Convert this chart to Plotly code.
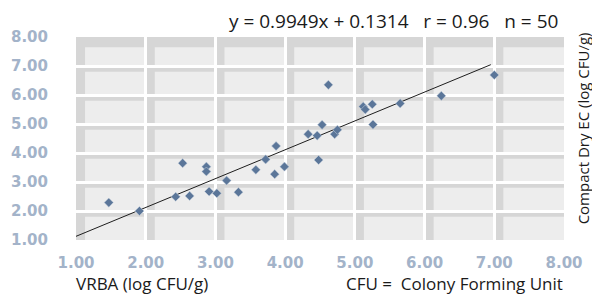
import plotly.graph_objects as go

# data
vrba = [1.47, 1.91, 2.43, 2.63, 2.53, 2.87, 2.87, 3.16, 2.91, 3.02, 3.33,
        3.58, 3.85, 3.99, 3.72, 3.87, 4.48, 4.33, 4.46, 4.53, 4.71, 4.75,
        4.62, 5.12, 5.15, 5.25, 5.26, 5.65, 6.24, 7.00]
compact = [2.29, 2.00, 2.49, 2.52, 3.65, 3.53, 3.36, 3.05, 2.67, 2.61, 2.65,
           3.42, 3.27, 3.53, 3.78, 4.24, 3.76, 4.65, 4.60, 4.97, 4.65, 4.80,
           6.35, 5.60, 5.50, 5.68, 4.98, 5.71, 5.97, 6.69]
slope = 0.9949
intercept = 0.1314
line_x = [1.0, 6.95]
tick_vals = [1, 2, 3, 4, 5, 6, 7, 8]
tick_text = ["1.00", "2.00", "3.00", "4.00", "5.00", "6.00", "7.00", "8.00"]
stats_text = "y = 0.9949x + 0.1314\u00a0\u00a0\u00a0r = 0.96\u00a0\u00a0\u00a0n = 50"
x_title = "VRBA (log CFU/g)"
y_title = "Compact Dry EC (log CFU/g)"
note_text = "CFU =\u00a0 Colony Forming Unit"

fig = go.Figure()

# regression line
fig.add_trace(go.Scatter(
    x=line_x, y=[slope * v + intercept for v in line_x],
    mode="lines", line=dict(color="#1e1e1e", width=1), hoverinfo="skip",
    showlegend=False))

fig.add_trace(go.Scatter(
    x=vrba, y=compact, mode="markers",
    marker=dict(symbol="diamond", size=7, color="#5b7699",
                line=dict(color="#c9d3df", width=0.5)),
    showlegend=False))

# tile-style background cells
shapes = []
for i in range(1, 8):
    for j in range(1, 8):
        shapes.append(dict(type="rect", xref="x", yref="y", layer="below",
                           x0=i, x1=i + 1, y0=j, y1=j + 1,
                           fillcolor="#d6d6d6", line=dict(width=0)))
        top = 0.35 if j == 7 else 0.2
        shapes.append(dict(type="rect", xref="x", yref="y", layer="below",
                           x0=i + 0.13, x1=i + 1, y0=j, y1=j + 1 - top,
                           fillcolor="#ededed", line=dict(width=0)))

tick_font = dict(family="DejaVu Sans", size=15, color="#a3b3c9", weight="bold")

fig.update_layout(
    width=592, height=297,
    margin=dict(l=76, r=28, t=37, b=57, autoexpand=False),
    paper_bgcolor="white", plot_bgcolor="white",
    shapes=shapes,
    xaxis=dict(range=[1, 8], tickvals=tick_vals, ticktext=tick_text,
               showgrid=True, gridcolor="white", gridwidth=3,
               zeroline=False, showline=False, ticks="",
               ticklabelstandoff=12, tickfont=tick_font, fixedrange=True,
               automargin=False),
    yaxis=dict(range=[1, 8], tickvals=tick_vals, ticktext=tick_text,
               showgrid=True, gridcolor="white", gridwidth=3,
               zeroline=False, showline=False, ticks="",
               ticklabelstandoff=27, tickfont=tick_font, fixedrange=True,
               automargin=False),
    annotations=[
        dict(text=stats_text, xref="paper", yref="paper", x=1.0, y=1.0,
             xanchor="right", yanchor="middle", yshift=16, xshift=-4,
             showarrow=False,
             font=dict(family="Open Sans", size=19, color="#1a1a1a")),
        dict(text=x_title, xref="paper", yref="paper", x=0.0, y=0.0,
             xanchor="left", yanchor="bottom", yshift=-57, xshift=-2,
             showarrow=False,
             font=dict(family="Open Sans", size=17, color="#1a1a1a")),
        dict(text=note_text, xref="paper", yref="paper", x=1.0, y=0.0,
             xanchor="right", yanchor="bottom", yshift=-57, xshift=1,
             showarrow=False,
             font=dict(family="Open Sans", size=17, color="#1a1a1a")),
        dict(text=y_title, xref="paper", yref="paper", x=1.0, y=0.55,
             xanchor="center", yanchor="middle", xshift=19, textangle=-90,
             showarrow=False,
             font=dict(family="Open Sans", size=15, color="#1a1a1a")),
    ],
)

fig.write_html("out.html", config={"displayModeBar": False},
               post_script="document.body.style.margin='0px';")
